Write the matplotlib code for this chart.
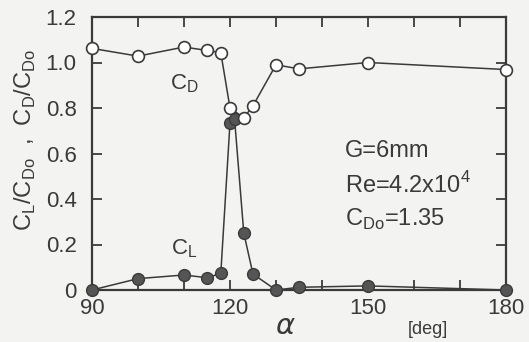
import numpy as np
import matplotlib.pyplot as plt

plt.rcParams['font.family'] = ['Liberation Sans', 'DejaVu Sans']

alpha_d = [90, 100, 110, 115, 118, 120, 123, 125, 130, 135, 150, 180]
cd = [1.062, 1.028, 1.068, 1.053, 1.043, 0.80, 0.757, 0.81, 0.99, 0.972, 1.0, 0.969]

alpha_l = [90, 100, 110, 115, 118, 120, 121, 123, 125, 130, 135, 150, 180]
cl = [0.0, 0.05, 0.066, 0.054, 0.073, 0.735, 0.75, 0.25, 0.07, 0.0, 0.012, 0.018, 0.0]

ink = '#3a3a3a'
bg = '#f3f3f1'

fig = plt.figure(figsize=(5.29, 3.42), dpi=100, facecolor=bg)
ax = fig.add_axes([92/529, 1 - 290/342, (506-92)/529, (290-17)/342], facecolor=bg)

ax.plot(alpha_l, cl, '-', color=ink, lw=1.1, marker='o', ms=8.5,
        mfc='#555555', mec=ink, zorder=3, clip_on=False)
ax.plot(alpha_d, cd, '-', color=ink, lw=1.1, marker='o', ms=8.5,
        mfc='white', mec=ink, mew=1.2, zorder=4, clip_on=False)

ax.set_xlim(90, 180)
ax.set_ylim(0, 1.2)
ax.set_xticks([90, 120, 150, 180])
ax.set_xticks(np.arange(90, 181, 10), minor=True)
ax.set_yticks([0, 0.2, 0.4, 0.6, 0.8, 1.0, 1.2])
ax.set_yticklabels(['0', '0.2', '0.4', '0.6', '0.8', '1.0', '1.2'])
ax.tick_params(which='both', direction='in', top=True, right=True,
               colors=ink, labelsize=16, width=1.3, length=7)
ax.tick_params(axis='x', pad=6)
ax.tick_params(axis='y', pad=11)
for s in ax.spines.values():
    s.set_color(ink)
    s.set_linewidth(1.6)

ax.text(110, 0.905, r'C$_\mathregular{D}$', fontsize=16, color=ink, ha='center', va='center')
ax.text(110, 0.18, r'C$_\mathregular{L}$', fontsize=16, color=ink, ha='center', va='center')
ax.text(145, 0.61, 'G=6mm', fontsize=17, color=ink, va='center')
ax.text(145, 0.46, r'Re=4.2x10$^\mathregular{4}$', fontsize=17, color=ink, va='center')
ax.text(145, 0.31, r'C$_\mathregular{Do}$=1.35', fontsize=17, color=ink, va='center')

fig.text(285/529, 1 - 326/342, r'$\alpha$', fontsize=21, color=ink, ha='center', va='center')
fig.text(428/529, 1 - 329/342, '[deg]', fontsize=13, color=ink, ha='center', va='center')
fig.text(25/529, 1 - 140/342, r'C$_\mathregular{L}$/C$_\mathregular{Do}$  ,  C$_\mathregular{D}$/C$_\mathregular{Do}$',
         fontsize=17, color=ink, rotation=90, ha='center', va='center')

fig.savefig('out.png', dpi=100, facecolor=bg)
